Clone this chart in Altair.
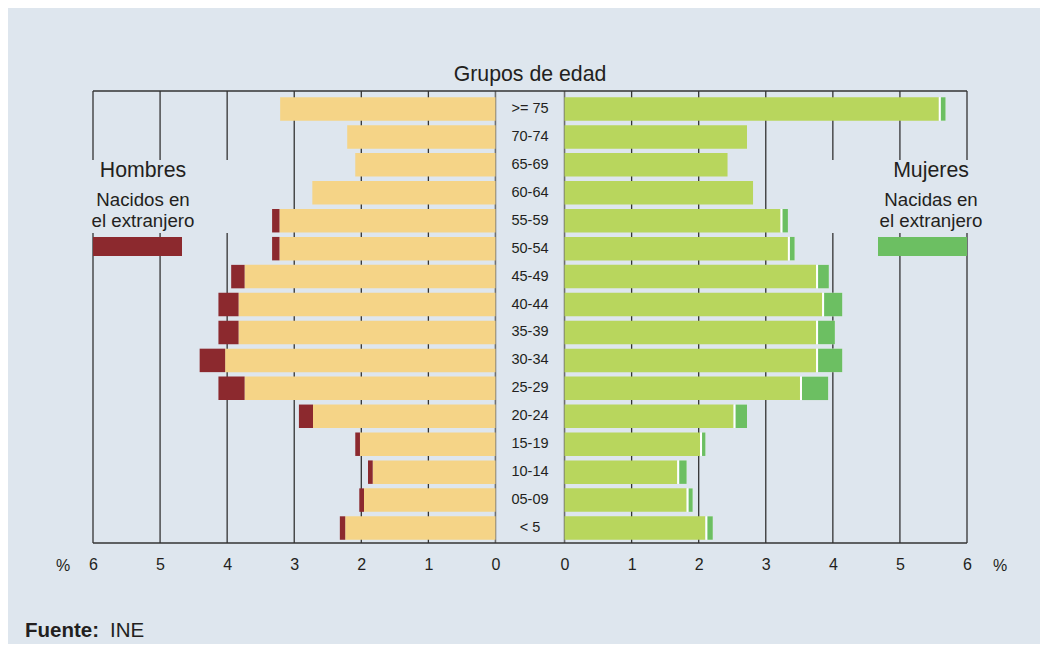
import altair as alt
import pandas as pd

# ---------------- data ----------------
ages = [">= 75", "70-74", "65-69", "60-64", "55-59", "50-54", "45-49", "40-44",
        "35-39", "30-34", "25-29", "20-24", "15-19", "10-14", "05-09", "< 5"]
men_native = [3.21, 2.21, 2.09, 2.73, 3.22, 3.22, 3.74, 3.83, 3.83, 4.03, 3.74, 2.72, 2.02, 1.83, 1.96, 2.24]
men_foreign = [0.00, 0.00, 0.00, 0.00, 0.11, 0.11, 0.20, 0.30, 0.30, 0.38, 0.39, 0.21, 0.07, 0.07, 0.07, 0.08]
women_native = [5.58, 2.72, 2.43, 2.81, 3.22, 3.33, 3.75, 3.84, 3.75, 3.75, 3.51, 2.52, 2.02, 1.68, 1.82, 2.10]
women_foreign = [0.10, 0.00, 0.00, 0.00, 0.11, 0.10, 0.19, 0.30, 0.28, 0.39, 0.42, 0.20, 0.08, 0.14, 0.09, 0.11]
tick_values = [0, 1, 2, 3, 4, 5, 6]

# ---------------- style ----------------
G = 0.515            # half width of the central label column, in % units
W, H = 874, 452
BG = "#dee6ee"
FONT = "Liberation Sans"
TXT = "#231f20"
C_YEL = "#f5d487"
C_RED = "#8c292e"
C_LGR = "#b8d65d"
C_DGR = "#6cbf62"
C_GRID = "#333333"
C_ZERO = "#6e6e6e"

df = pd.DataFrame({"age": ages, "mn": men_native, "mf": men_foreign,
                   "wn": women_native, "wf": women_foreign})

grid_pos = [-(G + k) for k in tick_values] + [G + k for k in tick_values]
grid_df = pd.DataFrame({"pos": grid_pos, "k": tick_values + tick_values})

xs = alt.Scale(domain=[-(6 + G), 6 + G], nice=False, zero=False)
xaxis = alt.Axis(values=grid_pos, title=None, domain=False, ticks=False, grid=False,
                 labelExpr=f"format(abs(datum.value) - {G}, '.0f')",
                 labelFont=FONT, labelFontSize=16, labelColor=TXT, labelPadding=13,
                 labelFlush=False)
ys = alt.Scale(domain=ages, range=[4, 451], paddingInner=0.16, paddingOuter=0.08)


def X(f):
    return alt.X(f, type="quantitative", scale=xs, axis=xaxis)


def Y():
    return alt.Y("age:N", scale=ys, axis=None)


one = pd.DataFrame({"a": [0]})

# gridlines
grid = alt.Chart(grid_df).transform_filter("datum.k > 0").mark_rule(
    color=C_GRID, strokeWidth=1.3).encode(x=X("pos"))
zero = alt.Chart(grid_df).transform_filter("datum.k == 0").mark_rule(
    color=C_ZERO, strokeWidth=1.6).encode(x=X("pos"))
top_b = alt.Chart(one).mark_rule(color=C_GRID, strokeWidth=1.3).encode(
    x=alt.value(0), x2=alt.value(W), y=alt.value(0))
bot_b = alt.Chart(one).mark_rule(color=C_GRID, strokeWidth=1.3).encode(
    x=alt.value(0), x2=alt.value(W), y=alt.value(H))

# background boxes behind legend texts (interrupt gridlines)
box_l = alt.Chart(one).mark_rect(color=BG).encode(
    x=alt.value(-5), x2=alt.value(165), y=alt.value(69), y2=alt.value(142))
box_r = alt.Chart(one).mark_rect(color=BG).encode(
    x=alt.value(705), x2=alt.value(W + 5), y=alt.value(69), y2=alt.value(142))

# bars
men_nat = alt.Chart(df).transform_calculate(
    a=f"-{G}", b=f"-({G} + datum.mn)").mark_bar(color=C_YEL).encode(
    x=X("a"), x2="b:Q", y=Y())
men_for = alt.Chart(df).transform_filter("datum.mf > 0").transform_calculate(
    a=f"-({G} + datum.mn)", b=f"-({G} + datum.mn + datum.mf)").mark_bar(color=C_RED).encode(
    x=X("a"), x2="b:Q", y=Y())
wom_nat = alt.Chart(df).transform_calculate(
    a=f"{G}", b=f"{G} + datum.wn").mark_bar(color=C_LGR).encode(
    x=X("a"), x2="b:Q", y=Y())
wom_white = alt.Chart(df).transform_filter("datum.wf > 0").transform_calculate(
    a=f"{G} + datum.wn", b=f"{G} + datum.wn + datum.wf").mark_bar(color="white").encode(
    x=X("a"), x2="b:Q", y=Y())
wom_for = alt.Chart(df).transform_filter("datum.wf > 0").transform_calculate(
    a=f"{G} + datum.wn", b=f"{G} + datum.wn + datum.wf").mark_bar(color=C_DGR, xOffset=2).encode(
    x=X("a"), x2="b:Q", y=Y())

# age labels
age_lbl = alt.Chart(df).transform_calculate(c="0").mark_text(
    font=FONT, fontSize=14.5, color=TXT, baseline="middle", align="center").encode(
    x=X("c"), y=Y(), text="age:N")


def txt(s, x, y, size, weight="normal", align="center"):
    return alt.Chart(pd.DataFrame({"t": [s]})).mark_text(
        font=FONT, fontSize=size, fontWeight=weight, color=TXT, align=align,
        baseline="alphabetic").encode(x=alt.value(x), y=alt.value(y), text="t:N")


texts = [
    txt("Grupos de edad", 437, -10, 21.3),
    txt("Hombres", 50, 86, 21.3),
    txt("Nacidos en", 50, 115, 18.7),
    txt("el extranjero", 50, 136, 18.7),
    txt("Mujeres", 838, 86, 21.3),
    txt("Nacidas en", 838, 115, 18.7),
    txt("el extranjero", 838, 136, 18.7),
    txt("%", -30, 480, 16),
    txt("%", 907, 480, 16),
    txt("Fuente:", -68, 546, 20.5, weight="bold", align="left"),
    txt("INE", 17, 546, 20.5, align="left"),
]

leg_l = alt.Chart(one).mark_rect(color=C_RED).encode(
    x=alt.value(0), x2=alt.value(89), y=alt.value(146), y2=alt.value(165))
leg_r = alt.Chart(one).mark_rect(color=C_DGR).encode(
    x=alt.value(785), x2=alt.value(W), y=alt.value(146), y2=alt.value(165))

chart = alt.layer(
    grid, zero, top_b, bot_b, box_l, box_r,
    men_nat, men_for, wom_nat, wom_white, wom_for,
    age_lbl, leg_l, leg_r, *texts
).properties(
    width=W, height=H,
    autosize=alt.AutoSizeParams(type="none"),
    padding={"left": 85, "top": 83, "right": 73, "bottom": 101},
    background=BG,
).configure_view(stroke=None)

chart.save("out.html", embed_options={"renderer": "svg", "actions": False})
